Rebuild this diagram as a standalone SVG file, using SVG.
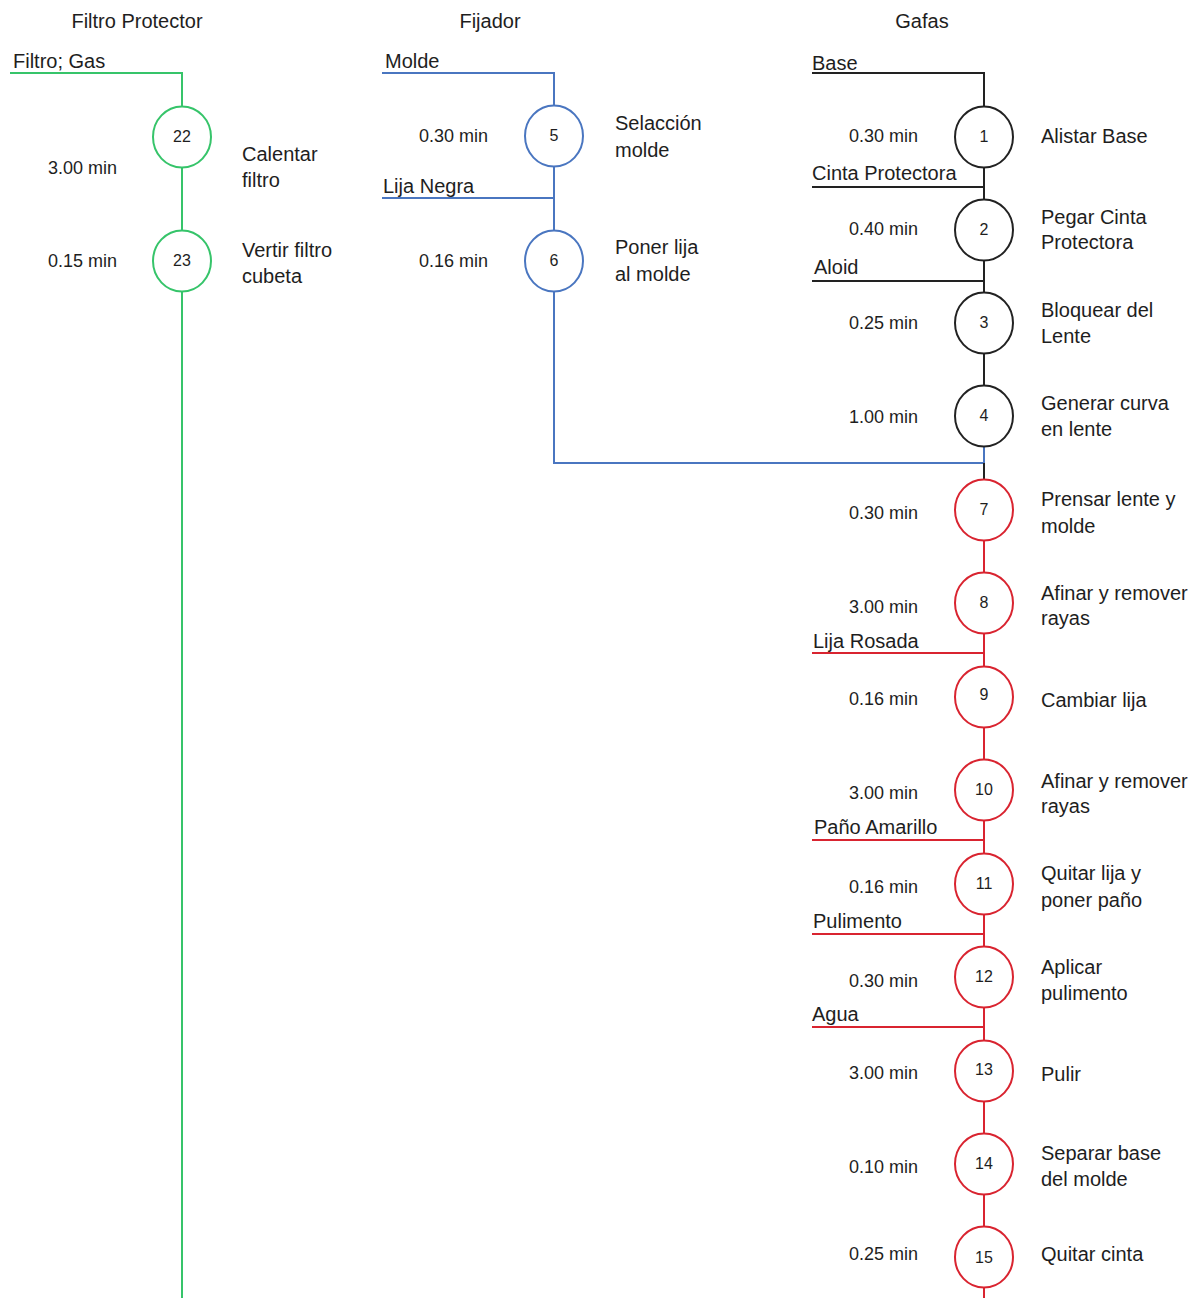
<svg xmlns="http://www.w3.org/2000/svg" width="1196" height="1298" viewBox="0 0 1196 1298">
<style>
text{font-family:"Liberation Sans",Arial,sans-serif;fill:#1e1e1e}
.h{font-size:20px;text-anchor:middle}
.lb{font-size:20px}
.t{font-size:18px;text-anchor:end}
.n{font-size:16px;text-anchor:middle}
.g{stroke:#36c46a}
.b{stroke:#4a76c0}
.k{stroke:#222}
.r{stroke:#d92430}
line,polyline{fill:none;stroke-width:2}
ellipse{fill:#fff;stroke-width:2}
</style>
<rect width="1196" height="1298" fill="#fff"/>
<g id="headers">
<text class="h" x="137" y="28">Filtro Protector</text>
<text class="h" x="490" y="28">Fijador</text>
<text class="h" x="922" y="28">Gafas</text>
</g>
<g id="connectors">
<polyline class="g" points="10,73 182,73 182,1298"/>
<polyline class="b" points="382,73 554,73 554,463 984,463 984,440"/>
<line class="b" x1="382" y1="198" x2="554" y2="198"/>
<polyline class="k" points="812,73 984,73 984,463"/>
<line class="k" x1="984" y1="463" x2="984" y2="482"/>
<line class="b" x1="984" y1="440" x2="984" y2="463"/>
<line class="k" x1="812" y1="187" x2="984" y2="187"/>
<line class="k" x1="812" y1="281" x2="984" y2="281"/>
<line class="r" x1="984" y1="482" x2="984" y2="1298"/>
<line class="r" x1="812" y1="653" x2="984" y2="653"/>
<line class="r" x1="812" y1="840" x2="984" y2="840"/>
<line class="r" x1="812" y1="934" x2="984" y2="934"/>
<line class="r" x1="812" y1="1027" x2="984" y2="1027"/>
</g>
<g id="inputs">
<text class="lb" x="13" y="68">Filtro; Gas</text>
<text class="lb" x="385" y="68">Molde</text>
<text class="lb" x="383" y="193">Lija Negra</text>
<text class="lb" x="812" y="70">Base</text>
<text class="lb" x="812" y="180">Cinta Protectora</text>
<text class="lb" x="814" y="274">Aloid</text>
<text class="lb" x="813" y="648">Lija Rosada</text>
<text class="lb" x="814" y="834">Paño Amarillo</text>
<text class="lb" x="813" y="928">Pulimento</text>
<text class="lb" x="812" y="1021">Agua</text>
</g>
<g id="node-22"><ellipse class="g" cx="182" cy="137" rx="29" ry="30.5"/><text class="n" x="182" y="142">22</text><text class="t" x="117" y="174">3.00 min</text><text class="lb" x="242" y="161">Calentar</text><text class="lb" x="242" y="187">filtro</text></g>
<g id="node-23"><ellipse class="g" cx="182" cy="261" rx="29" ry="30.5"/><text class="n" x="182" y="266">23</text><text class="t" x="117" y="267">0.15 min</text><text class="lb" x="242" y="257">Vertir filtro</text><text class="lb" x="242" y="283">cubeta</text></g>
<g id="node-5"><ellipse class="b" cx="554" cy="136" rx="29" ry="30.5"/><text class="n" x="554" y="141">5</text><text class="t" x="488" y="142">0.30 min</text><text class="lb" x="615" y="130">Selacción</text><text class="lb" x="615" y="157">molde</text></g>
<g id="node-6"><ellipse class="b" cx="554" cy="261" rx="29" ry="30.5"/><text class="n" x="554" y="266">6</text><text class="t" x="488" y="267">0.16 min</text><text class="lb" x="615" y="254">Poner lija</text><text class="lb" x="615" y="281">al molde</text></g>
<g id="node-1"><ellipse class="k" cx="984" cy="137" rx="29" ry="30.5"/><text class="n" x="984" y="142">1</text><text class="t" x="918" y="142">0.30 min</text><text class="lb" x="1041" y="143">Alistar Base</text></g>
<g id="node-2"><ellipse class="k" cx="984" cy="230" rx="29" ry="30.5"/><text class="n" x="984" y="235">2</text><text class="t" x="918" y="235">0.40 min</text><text class="lb" x="1041" y="224">Pegar Cinta</text><text class="lb" x="1041" y="249">Protectora</text></g>
<g id="node-3"><ellipse class="k" cx="984" cy="323" rx="29" ry="30.5"/><text class="n" x="984" y="328">3</text><text class="t" x="918" y="329">0.25 min</text><text class="lb" x="1041" y="317">Bloquear del</text><text class="lb" x="1041" y="343">Lente</text></g>
<g id="node-4"><ellipse class="k" cx="984" cy="416" rx="29" ry="30.5"/><text class="n" x="984" y="421">4</text><text class="t" x="918" y="423">1.00 min</text><text class="lb" x="1041" y="410">Generar curva</text><text class="lb" x="1041" y="436">en lente</text></g>
<g id="node-7"><ellipse class="r" cx="984" cy="510" rx="29" ry="30.5"/><text class="n" x="984" y="515">7</text><text class="t" x="918" y="519">0.30 min</text><text class="lb" x="1041" y="506">Prensar lente y</text><text class="lb" x="1041" y="533">molde</text></g>
<g id="node-8"><ellipse class="r" cx="984" cy="603" rx="29" ry="30.5"/><text class="n" x="984" y="608">8</text><text class="t" x="918" y="613">3.00 min</text><text class="lb" x="1041" y="600">Afinar y remover</text><text class="lb" x="1041" y="625">rayas</text></g>
<g id="node-9"><ellipse class="r" cx="984" cy="697" rx="29" ry="30.5"/><text class="n" x="984" y="700">9</text><text class="t" x="918" y="705">0.16 min</text><text class="lb" x="1041" y="707">Cambiar lija</text></g>
<g id="node-10"><ellipse class="r" cx="984" cy="790" rx="29" ry="30.5"/><text class="n" x="984" y="795">10</text><text class="t" x="918" y="799">3.00 min</text><text class="lb" x="1041" y="788">Afinar y remover</text><text class="lb" x="1041" y="813">rayas</text></g>
<g id="node-11"><ellipse class="r" cx="984" cy="884" rx="29" ry="30.5"/><text class="n" x="984" y="889">11</text><text class="t" x="918" y="893">0.16 min</text><text class="lb" x="1041" y="880">Quitar lija y</text><text class="lb" x="1041" y="907">poner paño</text></g>
<g id="node-12"><ellipse class="r" cx="984" cy="977" rx="29" ry="30.5"/><text class="n" x="984" y="982">12</text><text class="t" x="918" y="987">0.30 min</text><text class="lb" x="1041" y="974">Aplicar</text><text class="lb" x="1041" y="1000">pulimento</text></g>
<g id="node-13"><ellipse class="r" cx="984" cy="1071" rx="29" ry="30.5"/><text class="n" x="984" y="1075">13</text><text class="t" x="918" y="1079">3.00 min</text><text class="lb" x="1041" y="1081">Pulir</text></g>
<g id="node-14"><ellipse class="r" cx="984" cy="1164" rx="29" ry="30.5"/><text class="n" x="984" y="1169">14</text><text class="t" x="918" y="1173">0.10 min</text><text class="lb" x="1041" y="1160">Separar base</text><text class="lb" x="1041" y="1186">del molde</text></g>
<g id="node-15"><ellipse class="r" cx="984" cy="1257" rx="29" ry="30.5"/><text class="n" x="984" y="1263">15</text><text class="t" x="918" y="1260">0.25 min</text><text class="lb" x="1041" y="1261">Quitar cinta</text></g>
</svg>
